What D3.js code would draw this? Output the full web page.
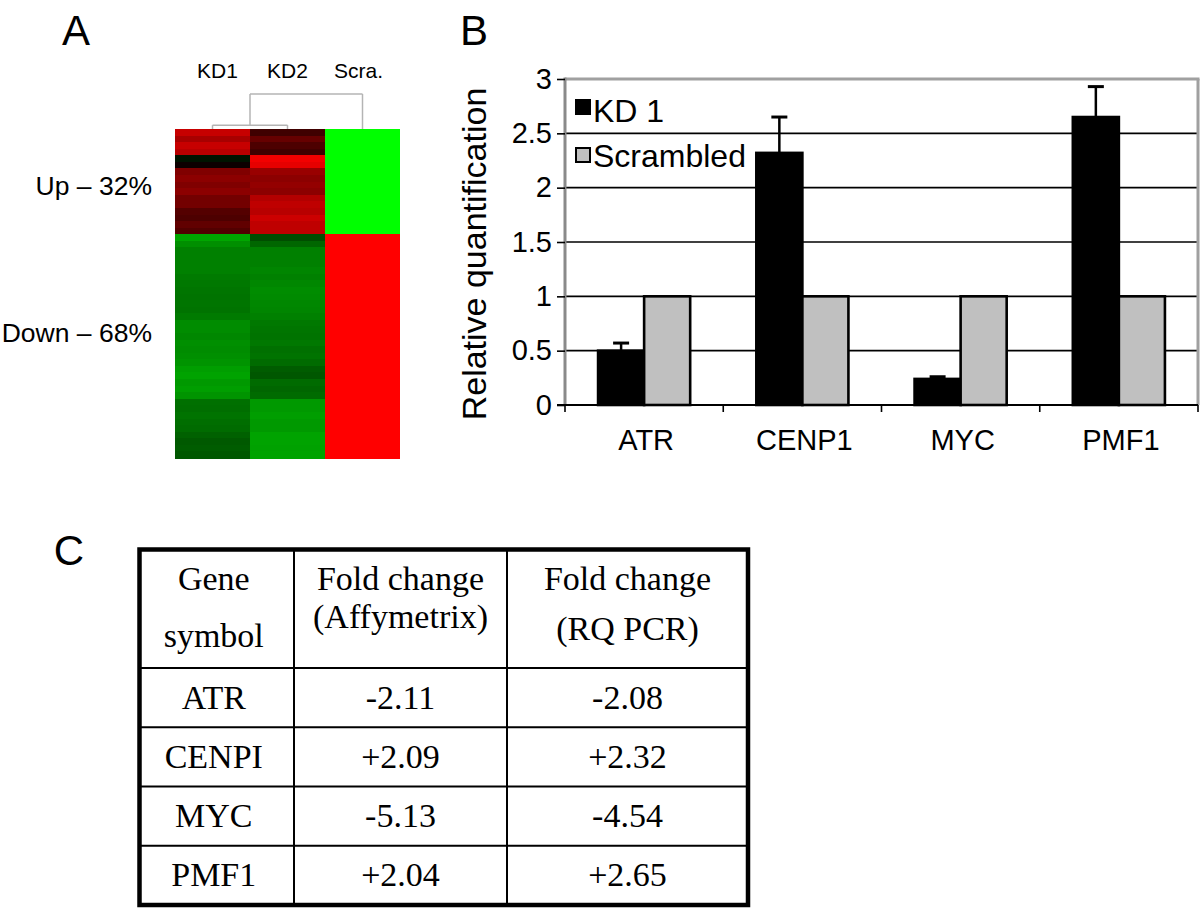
<!DOCTYPE html>
<html><head><meta charset="utf-8">
<script src="https://cdn.jsdelivr.net/npm/d3@7"></script>
<style>body{margin:0;background:#fff}svg{display:block}</style>
</head><body>
<svg id="c" width="1200" height="908"></svg>
<script>
// ---------- Panel A: heatmap data ----------
const heatColumns = ["KD1", "KD2", "Scra."];
const upLabel = "Up \u2013 32%";
const downLabel = "Down \u2013 68%";
// log-ratio style values: positive = red, negative = green, 0 = black
const kd1Up = [0.78, 0.66, 0.78, 0.72, -0.08, 0.05, 0.5, 0.55, 0.5, 0.55, 0.45, 0.45, 0.33, 0.3, 0.38, 0.32];
const kd2Up = [0.25, 0.4, 0.3, 0.25, 0.95, 0.9, 0.6, 0.55, 0.58, 0.55, 0.7, 0.75, 0.72, 0.8, 0.75, 0.75];
const scraUp = [-1, -1, -1, -1, -1, -1, -1, -1, -1, -1, -1, -1, -1, -1, -1, -1];
const kd1Down = [-0.65, -0.56, -0.5, -0.5, -0.5, -0.5, -0.48, -0.47, -0.46, -0.45, -0.46, -0.45, -0.48,
  -0.55, -0.55, -0.53, -0.56, -0.55, -0.56, -0.58, -0.62, -0.64, -0.6, -0.62, -0.58,
  -0.44, -0.43, -0.45, -0.43, -0.42, -0.38, -0.35, -0.36, -0.34];
const kd2Down = [-0.3, -0.4, -0.5, -0.5, -0.5, -0.52, -0.5, -0.53, -0.55, -0.54, -0.53, -0.52, -0.5,
  -0.47, -0.46, -0.45, -0.47, -0.44, -0.45, -0.42, -0.36, -0.34, -0.42, -0.4, -0.42,
  -0.6, -0.6, -0.62, -0.6, -0.6, -0.64, -0.64, -0.63, -0.64];
const scraDown = [1, 1, 1, 1, 1, 1, 1, 1, 1, 1, 1, 1, 1, 1, 1, 1, 1, 1, 1, 1, 1, 1, 1, 1, 1, 1, 1, 1, 1, 1, 1, 1, 1, 1];
const dendroMerges = [
  {left: "KD1", right: "KD2", height: 0.11},
  {left: "KD1+KD2", right: "Scra.", height: 1}
];

// ---------- Panel B: bar chart data ----------
const genes = ["ATR", "CENP1", "MYC", "PMF1"];
const series = ["KD 1", "Scrambled"];
const kd1Values = [0.50, 2.32, 0.24, 2.65];
const kd1Errors = [0.07, 0.33, 0.02, 0.28];
const scrambledValues = [1, 1, 1, 1];
const yTicks = [0, 0.5, 1, 1.5, 2, 2.5, 3];
const yTickLabels = ["0", "0.5", "1", "1.5", "2", "2.5", "3"];
const yTitle = "Relative quantification";

// ---------- Panel C: table data ----------
const tableHeaders = [["Gene", "symbol"], ["Fold change", "(Affymetrix)"], ["Fold change", "(RQ PCR)"]];
const tableGenes = ["ATR", "CENPI", "MYC", "PMF1"];
const foldAffy = ["-2.11", "+2.09", "-5.13", "+2.04"];
const foldRQ = ["-2.08", "+2.32", "-4.54", "+2.65"];

const SANS = "'Liberation Sans', Arial, Helvetica, sans-serif";
const SERIF = "'Liberation Serif', 'Times New Roman', serif";
const svg = d3.select("#c");

// panel letters
svg.append("g").selectAll("text").data([["A", 76, 45], ["B", 474, 45], ["C", 69, 565]]).join("text")
  .attr("x", d => d[1]).attr("y", d => d[2]).attr("text-anchor", "middle")
  .attr("font-family", SANS).attr("font-size", 42).text(d => d[0]);

// ================= Panel A =================
(function () {
  const up = kd1Up.map((v, i) => [v, kd2Up[i], scraUp[i]]);
  const down = kd1Down.map((v, i) => [v, kd2Down[i], scraDown[i]]);
  const rows = up.concat(down);
  const hx = d3.scaleBand().domain(heatColumns).range([175, 400]);
  const hy = d3.scaleBand().domain(d3.range(rows.length)).range([129, 458]);
  const color = d3.scaleLinear().domain([-1, 0, 1]).range(["#00ff00", "#000000", "#ff0000"]).clamp(true);
  const g = svg.append("g");
  const cells = [];
  rows.forEach((r, i) => r.forEach((v, j) => cells.push({i, col: heatColumns[j], v})));
  g.selectAll("rect").data(cells).join("rect")
    .attr("x", d => hx(d.col)).attr("y", d => hy(d.i))
    .attr("width", hx.bandwidth()).attr("height", hy.bandwidth() + 0.6)
    .attr("fill", d => color(d.v)).attr("shape-rendering", "crispEdges");

  // column labels
  g.selectAll("text.col").data(heatColumns).join("text").attr("class", "col")
    .attr("x", d => hx(d) + hx.bandwidth() / 2 + (d === "KD1" ? 5 : d === "Scra." ? -4 : 0)).attr("y", 78)
    .attr("text-anchor", "middle").attr("font-family", SANS).attr("font-size", 21).text(d => d);

  // dendrogram
  const dh = d3.scaleLinear().domain([0, 1]).range([129, 94]);
  const pos = {};
  heatColumns.forEach(c => pos[c] = {x: hx(c) + hx.bandwidth() / 2, y: dh(0)});
  const lines = [];
  dendroMerges.forEach(m => {
    const a = pos[m.left], b = pos[m.right], yy = dh(m.height);
    lines.push([a.x, a.y, a.x, yy], [b.x, b.y, b.x, yy], [a.x, yy, b.x, yy]);
    pos[m.left + "+" + m.right] = {x: (a.x + b.x) / 2, y: yy};
  });
  g.selectAll("line").data(lines).join("line")
    .attr("x1", d => d[0]).attr("y1", d => d[1]).attr("x2", d => d[2]).attr("y2", d => d[3])
    .attr("stroke", "#b4b4b4").attr("stroke-width", 1.5);

  // row group labels
  g.append("text").attr("x", 152).attr("y", 195).attr("text-anchor", "end")
    .attr("font-family", SANS).attr("font-size", 26.5).text(upLabel);
  g.append("text").attr("x", 152).attr("y", 342).attr("text-anchor", "end")
    .attr("font-family", SANS).attr("font-size", 26.5).text(downLabel);
})();

// ================= Panel B =================
(function () {
  const left = 565, right = 1198, top = 79, bottom = 405;
  const x0 = d3.scaleBand().domain(genes).range([left, right]).paddingInner(0.418).paddingOuter(0.209);
  const x1 = d3.scaleBand().domain(series).range([0, x0.bandwidth()]);
  const y = d3.scaleLinear().domain([0, 3]).range([bottom, top]);
  const g = svg.append("g");

  // gridlines
  g.selectAll("line.grid").data(yTicks.filter(t => t > 0 && t < 3)).join("line").attr("class", "grid")
    .attr("x1", left).attr("x2", right).attr("y1", d => y(d)).attr("y2", d => y(d))
    .attr("stroke", "#000").attr("stroke-width", 1.6);
  // frame (top/right/left gray)
  g.append("line").attr("x1", left).attr("x2", right + 1.5).attr("y1", y(3)).attr("y2", y(3))
    .attr("stroke", "#a0a0a0").attr("stroke-width", 3);
  g.append("line").attr("x1", right).attr("x2", right).attr("y1", y(3)).attr("y2", bottom)
    .attr("stroke", "#a0a0a0").attr("stroke-width", 3);
  g.append("line").attr("x1", left).attr("x2", left).attr("y1", y(3) - 1.5).attr("y2", bottom)
    .attr("stroke", "#8a8a8a").attr("stroke-width", 3);

  // y axis ticks + labels
  const ya = d3.axisLeft(y).tickValues(yTicks).tickFormat((d, i) => yTickLabels[i])
    .tickSizeInner(8).tickSizeOuter(0).tickPadding(5);
  const yg = g.append("g").attr("transform", `translate(${left},0)`).call(ya);
  yg.select(".domain").remove();
  yg.selectAll(".tick line").attr("stroke", "#000").attr("stroke-width", 1.6);
  yg.selectAll(".tick text").attr("font-family", SANS).attr("font-size", 29).attr("fill", "#000");

  // bars
  const bars = [];
  genes.forEach((gname, i) => {
    bars.push({gene: gname, s: series[0], v: kd1Values[i], e: kd1Errors[i]});
    bars.push({gene: gname, s: series[1], v: scrambledValues[i], e: 0});
  });
  g.selectAll("rect.bar").data(bars).join("rect").attr("class", "bar")
    .attr("x", d => x0(d.gene) + x1(d.s)).attr("width", x1.bandwidth())
    .attr("y", d => y(d.v)).attr("height", d => y(0) - y(d.v))
    .attr("fill", d => d.s === series[0] ? "#000" : "#c0c0c0")
    .attr("stroke", "#000").attr("stroke-width", 2.6);

  // error bars
  const eb = bars.filter(d => d.e > 0);
  g.selectAll("line.err").data(eb).join("line").attr("class", "err")
    .attr("x1", d => x0(d.gene) + x1(d.s) + x1.bandwidth() / 2).attr("x2", d => x0(d.gene) + x1(d.s) + x1.bandwidth() / 2)
    .attr("y1", d => y(d.v)).attr("y2", d => y(d.v + d.e)).attr("stroke", "#000").attr("stroke-width", 2.5);
  g.selectAll("line.cap").data(eb).join("line").attr("class", "cap")
    .attr("x1", d => x0(d.gene) + x1(d.s) + x1.bandwidth() / 2 - 8).attr("x2", d => x0(d.gene) + x1(d.s) + x1.bandwidth() / 2 + 8)
    .attr("y1", d => y(d.v + d.e)).attr("y2", d => y(d.v + d.e)).attr("stroke", "#000").attr("stroke-width", 3);

  // x axis
  g.append("line").attr("x1", left - 8).attr("x2", right).attr("y1", bottom).attr("y2", bottom)
    .attr("stroke", "#000").attr("stroke-width", 2);
  const bounds = d3.range(genes.length + 1).map(i => left + i * x0.step());
  g.selectAll("line.xt").data(bounds).join("line").attr("class", "xt")
    .attr("x1", d => d).attr("x2", d => d).attr("y1", bottom).attr("y2", bottom + 7)
    .attr("stroke", "#000").attr("stroke-width", 1.6);
  g.selectAll("text.xl").data(genes).join("text").attr("class", "xl")
    .attr("x", d => x0(d) + x0.bandwidth() / 2 + 2).attr("y", 450).attr("text-anchor", "middle")
    .attr("font-family", SANS).attr("font-size", 29).text(d => d);

  // y title
  g.append("text").attr("transform", "translate(486,254) rotate(-90)").attr("text-anchor", "middle")
    .attr("font-family", SANS).attr("font-size", 34).text(yTitle);

  // legend
  const lg = g.append("g");
  series.forEach((s, i) => {
    lg.append("rect").attr("x", 576).attr("y", 100 + i * 48).attr("width", 14).attr("height", 14)
      .attr("fill", i === 0 ? "#000" : "#c0c0c0").attr("stroke", "#000").attr("stroke-width", 2);
    lg.append("text").attr("x", 593).attr("y", 122 + i * 45).attr("font-family", SANS)
      .attr("font-size", 32).text(s);
  });
})();

// ================= Panel C =================
(function () {
  const colEdges = [139.5, 294, 507, 748];
  const top = 549.5, headerBottom = 668, bottom = 905;
  const ry = d3.scaleBand().domain(tableGenes).range([headerBottom, bottom]);
  const g = svg.append("g");
  // inner lines
  g.selectAll("line.v").data(colEdges.slice(1, 3)).join("line").attr("class", "v")
    .attr("x1", d => d).attr("x2", d => d).attr("y1", top).attr("y2", bottom)
    .attr("stroke", "#000").attr("stroke-width", 2);
  g.selectAll("line.h").data(tableGenes).join("line").attr("class", "h")
    .attr("x1", colEdges[0]).attr("x2", colEdges[3]).attr("y1", d => ry(d)).attr("y2", d => ry(d))
    .attr("stroke", "#000").attr("stroke-width", 2);
  g.append("rect").attr("x", colEdges[0]).attr("y", top).attr("width", colEdges[3] - colEdges[0])
    .attr("height", bottom - top).attr("fill", "none").attr("stroke", "#000").attr("stroke-width", 4.5);

  const centers = [0, 1, 2].map(i => (colEdges[i] + colEdges[i + 1]) / 2);
  const headerBaselines = [[590, 647], [590, 628], [590, 640]];
  tableHeaders.forEach((lines, c) => {
    lines.forEach((t, k) => {
      g.append("text").attr("x", centers[c] + (c === 0 ? -3 : 0)).attr("y", headerBaselines[c][k])
        .attr("text-anchor", "middle").attr("font-family", SERIF).attr("font-size", 34).text(t);
    });
  });
  const body = tableGenes.map((gname, i) => [gname, foldAffy[i], foldRQ[i]]);
  body.forEach((r, i) => {
    r.forEach((t, c) => {
      g.append("text").attr("x", centers[c] + (c === 0 ? -3 : 0))
        .attr("y", ry(tableGenes[i]) + ry.bandwidth() / 2 + 11)
        .attr("text-anchor", "middle").attr("font-family", SERIF).attr("font-size", 34).text(t);
    });
  });
})();
</script>
</body></html>
